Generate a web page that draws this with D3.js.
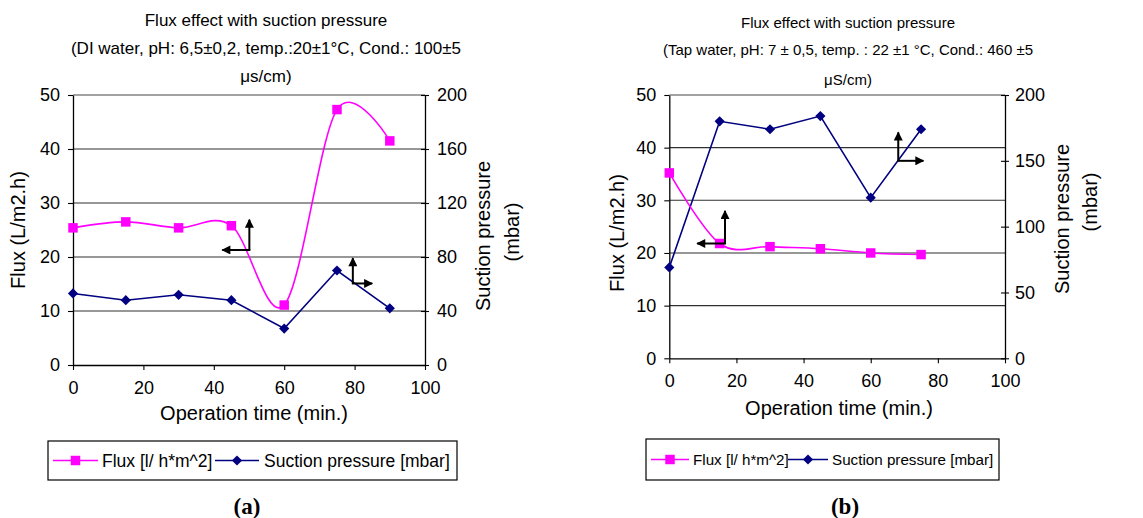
<!DOCTYPE html>
<html>
<head>
<meta charset="utf-8">
<script src="https://cdn.jsdelivr.net/npm/d3@7"></script>
<style>
  body { margin: 0; background: #fff; }
  svg { display: block; }
  text { font-family: Arial, "Liberation Sans", sans-serif; fill: #000; }
</style>
</head>
<body>
<script>
// data, panel (a): DI water
const timeA = [0, 15, 30, 45, 60, 75, 90];
const fluxA = [25.4, 26.5, 25.4, 25.8, 11.1, 47.3, 41.5];
const pressureA = [53, 48, 52, 48, 27, 70, 42];

// data, panel (b): tap water
const timeB = [0, 15, 30, 45, 60, 75];
const fluxB = [35.2, 21.8, 21.2, 20.8, 20.0, 19.7];
const pressureB = [69, 180, 174, 184, 122, 174];

// tick labels
const xTicks = [0, 20, 40, 60, 80, 100];
const fluxTicks = [0, 10, 20, 30, 40, 50];
const pressureTicksA = [0, 40, 80, 120, 160, 200];
const pressureTicksB = [0, 50, 100, 150, 200];

// arrows in data coords: corner (time, flux), tip of vertical arm, end of horizontal arm
const arrowsA = [[50.1, 21.3, 26.9, 42.4], [79.5, 15.1, 19.8, 85.0]];
const arrowsB = [[16.6, 21.8, 28.0, 8.3], [68.2, 37.5, 42.9, 75.7]];

const titleA = ['Flux effect with suction pressure',
    '(DI water, pH: 6,5±0,2, temp.:20±1°C, Cond.: 100±5',
    'μs/cm)'];
const titleB = ['Flux effect with suction pressure',
    '(Tap water, pH: 7 ± 0,5, temp. : 22 ±1 °C, Cond.: 460 ±5',
    'μS/cm)'];

const width = 1143;
const height = 518;
const magenta = '#ff00ff';
const navy = '#000080';

const svg = d3.select('body')
    .append('svg')
    .attr('width', width)
    .attr('height', height);

const defs = svg.append('defs');
defs.append('marker')
    .attr('id', 'head')
    .attr('viewBox', '0 0 10 10')
    .attr('refX', 9)
    .attr('refY', 5)
    .attr('markerWidth', 10)
    .attr('markerHeight', 9)
    .attr('markerUnits', 'userSpaceOnUse')
    .attr('orient', 'auto')
    .append('path')
    .attr('d', 'M0,0L10,5L0,10Z')
    .attr('fill', '#000');

const square = d3.symbol().type(d3.symbolSquare).size(90);
const diamond = d3.symbol().type(d3.symbolSquare).size(52);

function drawPanel(p) {
    const g = svg.append('g');

    const x = d3.scaleLinear().domain([0, 100]).range([p.left, p.right]);
    const yFlux = d3.scaleLinear().domain([0, 50]).range([p.bottom, p.top]);
    const yPress = d3.scaleLinear().domain([0, 200]).range([p.bottom, p.top]);

    // title
    g.selectAll('.title')
        .data(p.title)
        .enter()
        .append('text')
        .attr('x', p.titleX)
        .attr('y', (d, i) => p.titleY[i])
        .attr('text-anchor', 'middle')
        .attr('font-size', p.titleSize)
        .text(d => d);

    // gridlines
    g.selectAll('.grid')
        .data(fluxTicks.slice(1))
        .enter()
        .append('line')
        .attr('x1', p.left)
        .attr('x2', p.right)
        .attr('y1', d => yFlux(d))
        .attr('y2', d => yFlux(d))
        .attr('stroke', d => d === 50 ? '#858585' : '#303030')
        .attr('stroke-width', d => d === 50 ? 1.6 : 1.1);

    // axes
    const xAxis = d3.axisBottom(x).tickValues(xTicks).tickSize(5).tickSizeOuter(0).tickPadding(11);
    const gx = g.append('g')
        .attr('transform', 'translate(0,' + p.bottom + ')')
        .call(xAxis);

    const leftAxis = d3.axisLeft(yFlux).tickValues(fluxTicks).tickSize(5).tickSizeOuter(0).tickPadding(8);
    const gl = g.append('g')
        .attr('transform', 'translate(' + p.left + ',0)')
        .call(leftAxis);

    const rightAxis = d3.axisRight(yPress).tickValues(p.pressureTicks).tickSize(4).tickSizeOuter(0).tickPadding(p.rightPad);
    const gr = g.append('g')
        .attr('transform', 'translate(' + p.right + ',0)')
        .call(rightAxis);
    gr.selectAll('.tick line').attr('x1', -4);

    [gx, gl, gr].forEach(a => {
        a.selectAll('.domain').attr('stroke', '#000').attr('stroke-width', 1.3);
        a.selectAll('.tick line').attr('stroke', '#000').attr('stroke-width', 1.1);
        a.selectAll('text')
            .attr('font-size', 18)
            .attr('fill', '#000');
    });

    // axis titles
    g.append('text')
        .attr('x', p.xTitle[0])
        .attr('y', p.xTitle[1])
        .attr('text-anchor', 'middle')
        .attr('font-size', 20)
        .text('Operation time (min.)');

    g.append('text')
        .attr('transform', 'translate(' + p.yTitle[0] + ',' + p.yTitle[1] + ') rotate(-90)')
        .attr('text-anchor', 'middle')
        .attr('font-size', 20)
        .text('Flux (L/m2.h)');

    p.rTitle.forEach((t, i) => {
        g.append('text')
            .attr('transform', 'translate(' + t[0] + ',' + t[1] + ') rotate(-90)')
            .attr('text-anchor', 'middle')
            .attr('font-size', 20)
            .text(i === 0 ? 'Suction pressure' : '(mbar)');
    });

    // series
    const fluxPts = p.time.map((t, i) => [t, p.flux[i]]);
    const pressPts = p.time.map((t, i) => [t, p.pressure[i]]);

    g.append('path')
        .datum(pressPts)
        .attr('fill', 'none')
        .attr('stroke', navy)
        .attr('stroke-width', 1.6)
        .attr('d', d3.line().x(d => x(d[0])).y(d => yPress(d[1])));

    g.append('path')
        .datum(fluxPts)
        .attr('fill', 'none')
        .attr('stroke', magenta)
        .attr('stroke-width', 1.6)
        .attr('d', d3.line().curve(d3.curveCardinal.tension(0)).x(d => x(d[0])).y(d => yFlux(d[1])));

    g.selectAll('.press')
        .data(pressPts)
        .enter()
        .append('path')
        .attr('d', diamond)
        .attr('fill', navy)
        .attr('transform', d => 'translate(' + x(d[0]) + ',' + yPress(d[1]) + ') rotate(45)');

    g.selectAll('.flux')
        .data(fluxPts)
        .enter()
        .append('path')
        .attr('d', square)
        .attr('fill', magenta)
        .attr('transform', d => 'translate(' + x(d[0]) + ',' + yFlux(d[1]) + ')');

    // arrows
    p.arrows.forEach(a => {
        g.append('line')
            .attr('x1', x(a[0])).attr('y1', yFlux(a[1]))
            .attr('x2', x(a[0])).attr('y2', yFlux(a[2]))
            .attr('stroke', '#000').attr('stroke-width', 2)
            .attr('marker-end', 'url(#head)');
        g.append('line')
            .attr('x1', x(a[0]) + (a[3] < a[0] ? 1 : -1)).attr('y1', yFlux(a[1]))
            .attr('x2', x(a[3])).attr('y2', yFlux(a[1]))
            .attr('stroke', '#000').attr('stroke-width', 2)
            .attr('marker-end', 'url(#head)');
    });

    // legend
    const L = p.legend;
    const lg = g.append('g');
    lg.append('rect')
        .attr('x', L.x).attr('y', L.y)
        .attr('width', L.w).attr('height', L.h)
        .attr('fill', '#fff').attr('stroke', '#000').attr('stroke-width', 1.2);
    const cy = L.y + L.h / 2;
    lg.append('line').attr('x1', L.items[0]).attr('x2', L.items[1]).attr('y1', cy).attr('y2', cy)
        .attr('stroke', magenta).attr('stroke-width', 1.6);
    lg.append('path').attr('d', square).attr('fill', magenta)
        .attr('transform', 'translate(' + (L.items[0] + L.items[1]) / 2 + ',' + cy + ')');
    lg.append('text').attr('x', L.items[2]).attr('y', cy).attr('dy', '0.35em')
        .attr('font-size', L.size).text('Flux [l/ h*m^2]');
    lg.append('line').attr('x1', L.items[3]).attr('x2', L.items[4]).attr('y1', cy).attr('y2', cy)
        .attr('stroke', navy).attr('stroke-width', 1.6);
    lg.append('path').attr('d', diamond).attr('fill', navy)
        .attr('transform', 'translate(' + (L.items[3] + L.items[4]) / 2 + ',' + cy + ') rotate(45)');
    lg.append('text').attr('x', L.items[5]).attr('y', cy).attr('dy', '0.35em')
        .attr('font-size', L.size).text('Suction pressure [mbar]');

    // panel label
    g.append('text')
        .attr('x', p.tag[0])
        .attr('y', p.tag[1])
        .attr('text-anchor', 'middle')
        .style('font-family', '"Liberation Serif", "Times New Roman", serif')
        .style('font-weight', 'bold')
        .attr('font-size', 23)
        .text(p.tag[2]);
}

drawPanel({
    time: timeA, flux: fluxA, pressure: pressureA,
    pressureTicks: pressureTicksA, arrows: arrowsA, title: titleA,
    left: 73, right: 425, top: 95, bottom: 365, rightPad: 8,
    titleX: 266, titleY: [26, 54, 82], titleSize: 17,
    xTitle: [254, 420], yTitle: [25, 230], rTitle: [[490, 236], [519, 232]],
    legend: { x: 48, y: 441, w: 409, h: 39, size: 17.5, items: [53, 98, 102, 215, 259, 264] },
    tag: [247, 514, '(a)']
});

drawPanel({
    time: timeB, flux: fluxB, pressure: pressureB,
    pressureTicks: pressureTicksB, arrows: arrowsB, title: titleB,
    left: 669.3, right: 1005, top: 95, bottom: 358.3, rightPad: 6,
    titleX: 848, titleY: [28, 55, 85], titleSize: 15,
    xTitle: [839, 415], yTitle: [624, 233], rTitle: [[1069, 219], [1097, 202]],
    legend: { x: 646, y: 439, w: 353, h: 41, size: 15.2, items: [651, 689, 693, 788, 828, 832] },
    tag: [845, 514, '(b)']
});
</script>
</body>
</html>
